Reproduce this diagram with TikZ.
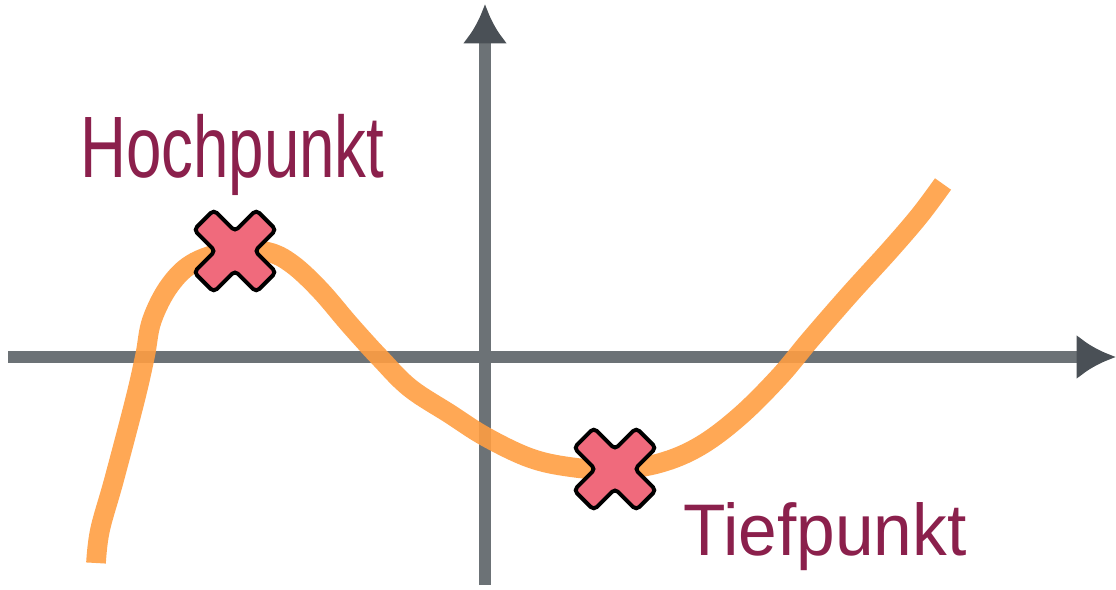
\documentclass[tikz,border=0pt]{standalone}
\usepackage{fontspec}
\setmainfont{Liberation Sans}
\usetikzlibrary{arrows.meta}
\definecolor{achse}{RGB}{108,114,118}
\definecolor{achsespitze}{RGB}{74,80,86}
\definecolor{kurve}{RGB}{255,158,66}
\definecolor{kreuzrot}{RGB}{240,106,124}
\definecolor{beschriftung}{RGB}{139,32,76}
\begin{document}
\begin{tikzpicture}[
    x=0.025cm,
    y=-0.025cm,
    achse/.style={
        draw=achse,
        line width=8.5pt,
        -{Latex[length=28pt, width=32pt, color=achsespitze]}
    },
    kurve/.style={
        draw=kurve,
        line width=14pt,
        draw opacity=0.9
    },
    beschr/.style={
        text=beschriftung,
        inner sep=0pt,
        anchor=base west
    },
    kreuz/.pic={
        \path[draw=black, line width=2.8pt, fill=kreuzrot, rounded corners=3pt, rotate=45]
            (14,14) -- (44,14) -- (44,-14) -- (14,-14) -- (14,-44) -- (-14,-44)
            -- (-14,-14) -- (-44,-14) -- (-44,14) -- (-14,14) -- (-14,44) -- (14,44) -- cycle;
    }
]

\useasboundingbox (0,0) rectangle (1116,590);

% Achsen
\coordinate (xstart) at (8,357);
\coordinate (xend) at (1116,357);
\coordinate (ystart) at (485,585);
\coordinate (yend) at (485,4);
\draw[achse] (xstart) -- (xend);
\draw[achse] (ystart) -- (yend);

% Funktionsgraph
\draw[kurve] plot[smooth, tension=0.6] coordinates {
    (96,563) (100,530) (114,480) (135,400) (145,356) (152,320) (170,285) (195,262)
    (235,250) (268,252) (292,264) (320,290) (350,325) (380,358) (410,388)
    (450,414) (486,437) (530,458) (570,467) (615,470) (660,463) (700,446)
    (740,416) (780,376) (810,340) (850,294) (890,250) (920,215) (943,184)
};

% Extrempunkte
\pic at (235,251) {kreuz};
\pic at (615,469) {kreuz};

% Beschriftungen
\node[beschr, font=\fontsize{62}{64}\selectfont] (hoch) at (80,178) {\scalebox{0.73}[1]{Hochpunkt}};
\node[beschr, font=\fontsize{52}{54}\selectfont] (tief) at (683,555) {\scalebox{0.95}[1]{Tiefpunkt}};

\end{tikzpicture}
\end{document}
